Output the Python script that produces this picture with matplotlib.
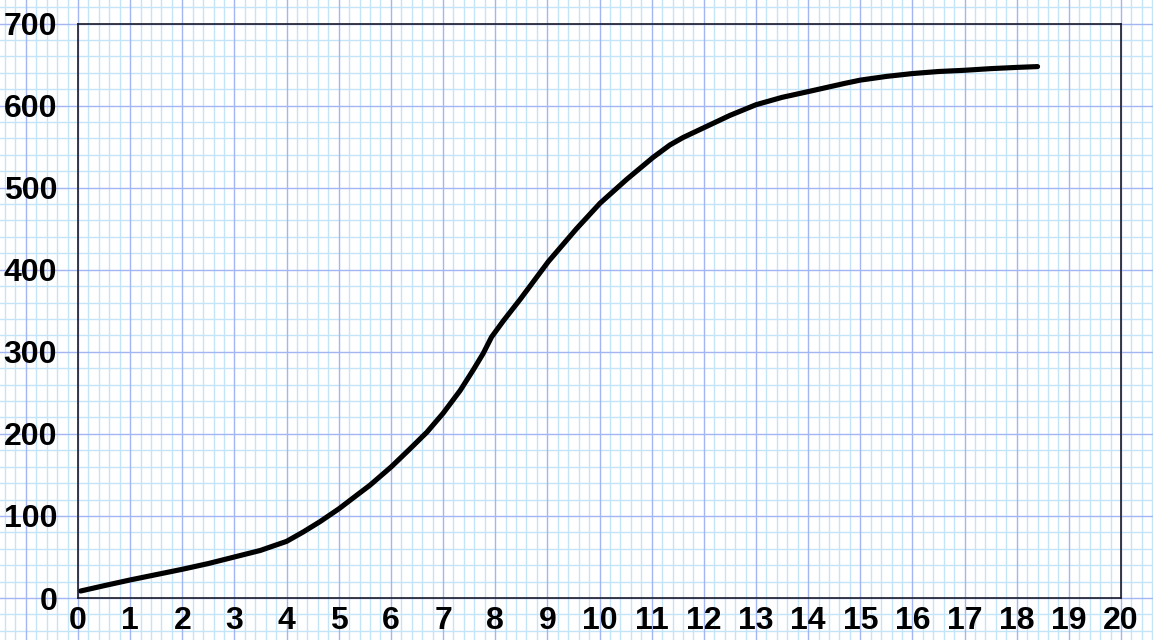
import numpy as np
import matplotlib.pyplot as plt

# ------------------------------------------------------------
# Donnees
# ------------------------------------------------------------
x_vals = [0.05, 0.5, 1, 1.5, 2, 2.5, 3, 3.5, 3.68, 4.0, 4.32, 4.64, 5.01,
          5.34, 5.6, 6.01, 6.37, 6.69, 7.0, 7.33, 7.58, 7.77, 7.93, 8.16,
          8.48, 9.02, 9.56, 10.01, 10.52, 11.03, 11.35, 11.6, 12.0, 12.5,
          13.0, 13.5, 14.0, 14.42, 14.7, 15.0, 15.5, 16.0, 16.5, 17.0,
          17.5, 18.0, 18.4]
y_vals = [8.5, 15, 22, 28.5, 35, 42, 50, 58, 62, 69, 80.5, 93, 109,
          125, 137.5, 160, 182, 202, 225, 253, 278, 298, 318, 338,
          364, 410, 450, 481, 510, 537, 552, 561, 573, 588,
          601, 610, 617, 623, 627, 631, 635.5, 639, 641.5, 643,
          645, 646.5, 647.5]

x_ticks = list(range(0, 21))
y_ticks = list(range(0, 701, 100))

# ------------------------------------------------------------
# Figure
# ------------------------------------------------------------
W, H = 1153, 640
fig = plt.figure(figsize=(W / 100, H / 100), dpi=100)

# position des axes en pixels
left, right, top, bottom = 78, 1121, 23.5, 598
pos = [left / W, (H - bottom) / H, (right - left) / W, (bottom - top) / H]

xmin, xmax, ymin, ymax = 0, 20, 0, 700
sx = (right - left) / (xmax - xmin)
sy = (bottom - top) / (ymax - ymin)

# papier millimetre sur toute la figure
bg = fig.add_axes([0, 0, 1, 1], zorder=0)
bx0 = xmin - left / sx
bx1 = xmax + (W - right) / sx
by0 = ymin - (H - bottom) / sy
by1 = ymax + top / sy
bg.set_xlim(bx0, bx1)
bg.set_ylim(by0, by1)
bg.axis("off")

minor_col = "#c4e4f7"
major_col = "#a3b5f2"
for v in np.arange(np.floor(bx0), bx1, 0.2):
    if abs(v - round(v)) > 1e-6:
        bg.axvline(v, color=minor_col, lw=1, zorder=1)
for v in np.arange(np.floor(by0 / 20) * 20, by1, 20):
    if v % 100 != 0:
        bg.axhline(v, color=minor_col, lw=1, zorder=1)
for v in np.arange(np.floor(bx0), bx1 + 1):
    bg.axvline(v, color=major_col, lw=1, zorder=2)
for v in np.arange(np.floor(by0 / 100) * 100, by1, 100):
    bg.axhline(v, color=major_col, lw=1, zorder=2)

# axes principaux
ax = fig.add_axes(pos, zorder=1)
ax.patch.set_alpha(0)
ax.plot(x_vals, y_vals, color="black", lw=3.7, solid_capstyle="round",
        solid_joinstyle="round")
ax.set_xlim(xmin, xmax)
ax.set_ylim(ymin, ymax)
ax.set_xticks(x_ticks)
ax.set_yticks(y_ticks)
for s in ax.spines.values():
    s.set_color("#1c1c2a")
    s.set_linewidth(1.2)

fnt = dict(family="Liberation Sans", weight="bold", size=23)
ax.set_xticklabels([str(t) for t in x_ticks], **fnt)
ax.set_yticklabels([str(t) for t in y_ticks], **fnt)
ax.tick_params(axis="x", length=0, pad=6)
ax.tick_params(axis="y", length=0, pad=15)

plt.savefig("out.png", dpi=100)
